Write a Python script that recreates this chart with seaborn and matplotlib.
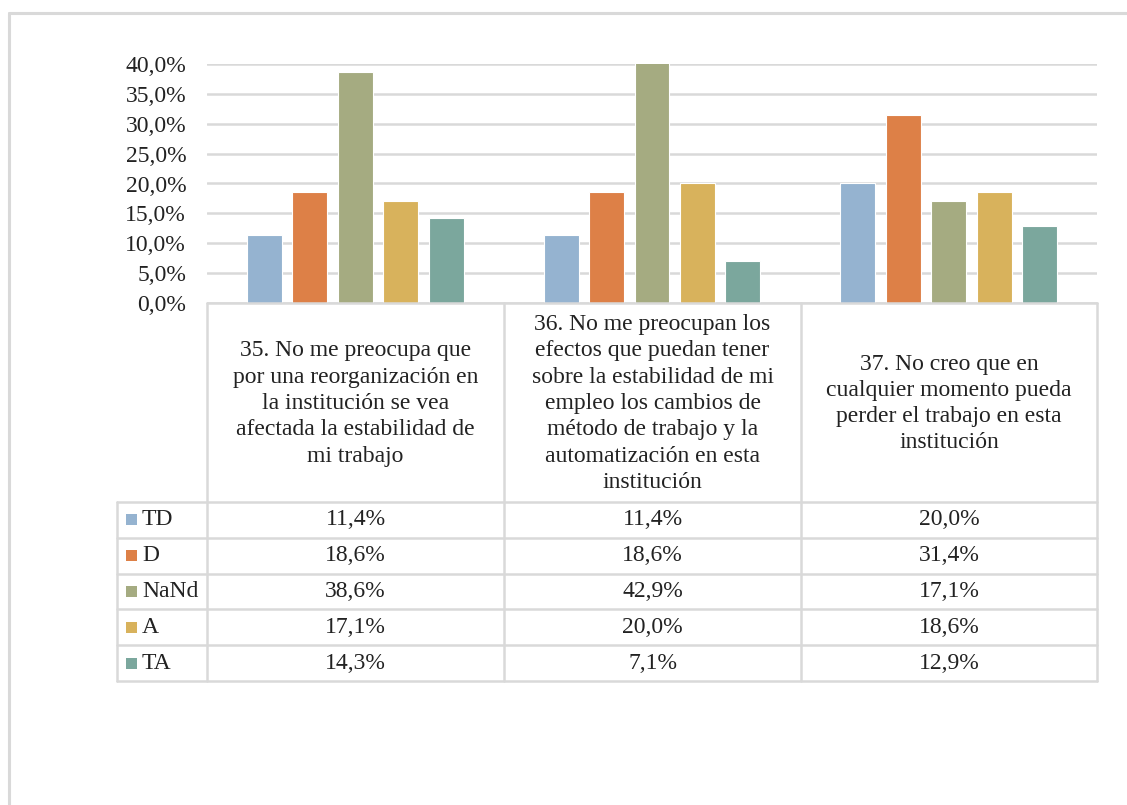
import matplotlib
matplotlib.use("Agg")
import matplotlib.pyplot as plt
from matplotlib.patches import Rectangle
from matplotlib.lines import Line2D
from matplotlib.ticker import FuncFormatter
import pandas as pd
import seaborn as sns

# Survey items (header text of the data table)
items = [
    "35. No me preocupa que\npor una reorganización en\nla institución se vea\nafectada la estabilidad de\nmi trabajo",
    "36. No me preocupan los\nefectos que puedan tener\nsobre la estabilidad de mi\nempleo los cambios de\nmétodo de trabajo y la\nautomatización en esta\ninstitución",
    "37. No creo que en\ncualquier momento pueda\nperder el trabajo en esta\ninstitución",
]
responses = ["TD", "D", "NaNd", "A", "TA"]

# Share of answers per item (fractions)
td = [0.114, 0.114, 0.200]
d = [0.186, 0.186, 0.314]
nand = [0.386, 0.429, 0.171]
a = [0.171, 0.200, 0.186]
ta = [0.143, 0.071, 0.129]

colors = ["#95B3D0", "#DD8047", "#A5AB81", "#D8B25C", "#7BA79D"]

series = [td, d, nand, a, ta]
rows = []
for resp, vals in zip(responses, series):
    for i, v in enumerate(vals):
        rows.append({"item": i, "resp": resp, "val": v})
df = pd.DataFrame(rows)

sns.set_theme(style="white")
plt.rcParams["font.family"] = ["Liberation Serif", "DejaVu Serif"]

W, H = 1127, 805
fig = plt.figure(figsize=(W / 100, H / 100), dpi=100)
fig.patch.set_facecolor("white")


def fx(px):
    return px / W


def fy(py):
    return 1 - py / H


# Layout in pixels
left, right = 207, 1097
top, base = 64, 303
lab_left = 117
head_bot = 502
row_h = 35.8
grid_c = "#D9D9D9"
txt_c = "#222222"
fs = 17

ax = fig.add_axes([fx(left), fy(base), fx(right) - fx(left), fy(top) - fy(base)])
sns.barplot(data=df, x="item", y="val", hue="resp", hue_order=responses,
            palette=colors, width=0.766, gap=0.23, saturation=1,
            ax=ax, legend=False, errorbar=None)
ax.set_xlim(-0.5, 2.5)
ax.set_ylim(0, 0.40)
ax.set_yticks([i * 0.05 for i in range(9)])
ax.yaxis.set_major_formatter(FuncFormatter(lambda v, p: f"{v * 100:.1f}%".replace(".", ",")))
ax.tick_params(axis="y", labelsize=fs, length=0, pad=15, colors=txt_c)
ax.set_xticks([])
ax.set_xlabel("")
ax.set_ylabel("")
ax.yaxis.grid(True, color=grid_c, linewidth=1.8)
ax.set_axisbelow(True)
for s in ax.spines.values():
    s.set_visible(False)
for p in ax.patches:
    p.set_edgecolor("white")
    p.set_linewidth(0.8)

# Data table drawn beneath the bars
tab_bottom = head_bot + 5 * row_h
lines = []
lines.append(((left, right), (base, base)))
for xv in (left, 504, 801, right):
    lines.append(((xv, xv), (base, tab_bottom)))
lines.append(((lab_left, lab_left), (head_bot, tab_bottom)))
for k in range(6):
    yv = head_bot + k * row_h
    lines.append(((lab_left, right), (yv, yv)))
for xs, ys in lines:
    fig.add_artist(Line2D([fx(x) for x in xs], [fy(y) for y in ys],
                          color=grid_c, linewidth=1.8))

col_edges = [left, 504, 801, right]
for i, txt in enumerate(items):
    cx = (col_edges[i] + col_edges[i + 1]) / 2
    fig.text(fx(cx), fy((base + head_bot) / 2 + 1), txt, ha="center", va="center",
             fontsize=fs, color=txt_c, linespacing=1.33)

for r, (resp, vals, col) in enumerate(zip(responses, series, colors)):
    cy = head_bot + (r + 0.5) * row_h
    fig.add_artist(Rectangle((fx(126), fy(cy + 5.5)), fx(11), fy(cy - 5.5) - fy(cy + 5.5),
                             facecolor=col, edgecolor="none"))
    fig.text(fx(142), fy(cy), resp, ha="left", va="center", fontsize=fs, color=txt_c)
    for i, v in enumerate(vals):
        cx = (col_edges[i] + col_edges[i + 1]) / 2
        fig.text(fx(cx), fy(cy), f"{v * 100:.1f}%".replace(".", ","), ha="center",
                 va="center", fontsize=fs, color=txt_c)

# Outer chart frame
fig.add_artist(Line2D([fx(9), fx(9)], [fy(13), 0], color=grid_c, linewidth=2.2))
fig.add_artist(Line2D([fx(9), 1], [fy(13), fy(13)], color=grid_c, linewidth=2.2))

fig.savefig("out.png", dpi=100, facecolor="white")
